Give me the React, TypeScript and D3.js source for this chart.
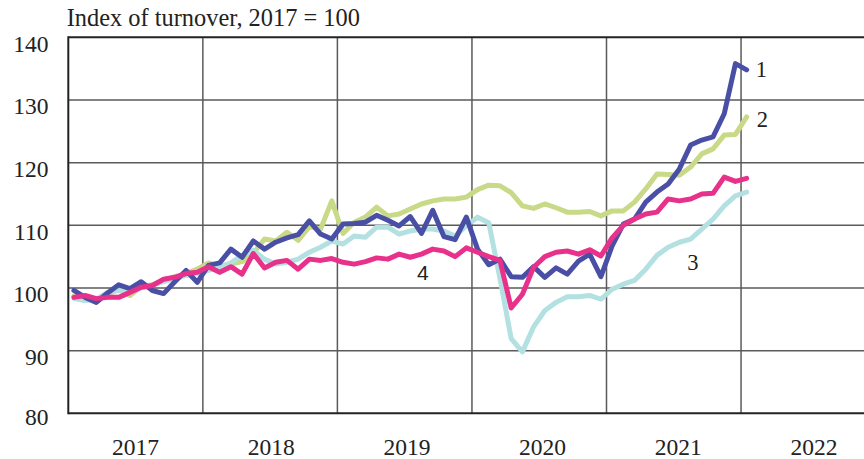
import React from 'react';
import * as d3 from 'd3';

const years = ['2017', '2018', '2019', '2020', '2021', '2022'];
const yTicks = [80, 90, 100, 110, 120, 130, 140];
const titleText = 'Index of turnover, 2017 = 100';

// Monthly values, Jan 2017 – Jan 2022
const series1 = [
  99.6, 98.5, 97.7, 99.2, 100.5, 99.9, 101.0, 99.6, 99.1, 101.0, 102.8, 100.9,
  103.6, 104.0, 106.2, 104.9, 107.5, 106.2, 107.3, 108.0, 108.5, 110.7, 108.6, 107.8,
  110.2, 110.3, 110.5, 111.6, 110.8, 109.9, 111.4, 108.7, 112.4, 108.2, 107.7, 111.3,
  106.2, 103.7, 104.6, 101.8, 101.7, 103.4, 101.7, 103.2, 102.2, 104.3, 105.4, 101.8,
  106.7, 110.2, 111.0, 113.7, 115.3, 116.6, 119.0, 122.8, 123.6, 124.1, 127.8, 135.8,
  134.8,
];
const series2 = [
  98.7, 98.3, 98.0, 99.0, 99.8, 98.8, 100.2, 100.5, 101.2, 101.8, 102.3, 103.0,
  104.0, 103.5, 103.8, 104.2, 105.5, 107.8, 107.5, 108.9, 107.6, 109.8, 109.4, 113.9,
  108.7, 110.5, 111.3, 112.9, 111.5, 111.8, 112.6, 113.4, 113.9, 114.2, 114.2, 114.5,
  115.7, 116.4, 116.3, 115.2, 113.1, 112.7, 113.4, 112.8, 112.1, 112.1, 112.2, 111.5,
  112.3, 112.3, 113.7, 115.8, 118.2, 118.1, 118.0, 119.3, 121.4, 122.2, 124.4, 124.5,
  127.3,
];
const series3 = [
  98.3, 98.0, 98.2, 99.3, 99.6, 99.3, 100.0, 100.5, 101.0, 101.5, 102.0, 102.3,
  102.8, 103.3, 104.0, 105.2, 106.0, 104.6, 103.8, 104.1, 104.6, 105.7, 106.5, 107.5,
  107.0, 108.3, 108.1, 109.7, 109.7, 108.6, 109.1, 109.4, 109.4, 109.1, 108.3, 109.9,
  111.3, 110.4, 101.5, 91.9, 89.8, 93.8, 96.4, 97.7, 98.6, 98.6, 98.8, 98.2,
  99.8, 100.6, 101.2, 103.0, 105.2, 106.5, 107.3, 107.8, 109.4, 111.0, 113.1, 114.7,
  115.3,
];
const series4 = [
  98.5, 98.8, 98.3, 98.5, 98.5, 99.3, 100.1, 100.4, 101.4, 101.7, 102.3, 102.5,
  103.4, 102.5, 103.4, 102.2, 105.5, 103.2, 104.1, 104.4, 103.0, 104.6, 104.4, 104.7,
  104.1, 103.8, 104.2, 104.8, 104.6, 105.4, 104.9, 105.4, 106.2, 105.9, 105.0, 106.4,
  105.7, 105.0, 104.4, 96.8, 99.0, 103.3, 105.0, 105.7, 105.9, 105.4, 106.1, 105.1,
  108.0, 110.0, 111.0, 111.8, 112.1, 114.2, 113.9, 114.2, 115.0, 115.1, 117.7, 117.0,
  117.5,
];

const seriesNames = ['1', '2', '3', '4'];
const seriesColors = ['#4a4fa6', '#c8d987', '#b3e0e1', '#e8318b'];
// label anchor positions (month index, value)
const labelMonths = [61.3, 61.4, 55.2, 31.1];
const labelValues = [133.7, 125.7, 102.9, 101.3];

export default function App() {
  const W = 864;
  const H = 459;
  const left = 68.3;
  const yearW = 134.55;
  const top = 37.3;
  const bottom = 413.3;
  const right = 864;

  const x = d3.scaleLinear().domain([0, 72]).range([left, left + 6 * yearW]);
  const y = d3.scaleLinear().domain([80, 140]).range([bottom, top]);
  const yearLabelX = d3.scaleLinear().domain([0, 5]).range([135.5, 814]);

  const line = d3
    .line<number>()
    .x((_, i) => x(i + 0.5))
    .y((d) => y(d));

  const all = [series1, series2, series3, series4];
  const drawOrder = [1, 2, 0, 3];
  const serif = '"Liberation Serif", "Times New Roman", serif';
  const sans = '"Liberation Sans", Arial, sans-serif';

  return (
    <svg
      width={W}
      height={H}
      style={{ position: 'absolute', left: 0, top: 0, background: '#fff' }}
    >
      <rect x={0} y={0} width={W} height={H} fill="#fff" />
      {/* horizontal grid */}
      {yTicks
        .filter((t) => t !== 80 && t !== 140)
        .map((t) => (
          <line key={'h' + t} x1={left} x2={right} y1={y(t)} y2={y(t)} stroke="#5a5a5a" strokeWidth={1.5} />
        ))}
      {/* vertical grid */}
      {d3.range(1, 6).map((k) => (
        <line key={'v' + k} x1={x(k * 12)} x2={x(k * 12)} y1={top} y2={bottom} stroke="#5a5a5a" strokeWidth={1.5} />
      ))}
      {/* top & bottom frame */}
      <line x1={left} x2={right} y1={y(140)} y2={y(140)} stroke="#222" strokeWidth={2} />
      <line x1={left} x2={right} y1={y(80)} y2={y(80)} stroke="#222" strokeWidth={2} />
      <line x1={left} x2={left} y1={top - 1} y2={bottom + 1} stroke="#222" strokeWidth={2} />

      {/* series */}
      {drawOrder.map((si) => (
        <path
          key={'s' + si}
          d={line(all[si]) || ''}
          fill="none"
          stroke={seriesColors[si]}
          strokeWidth={5}
          strokeLinejoin="round"
          strokeLinecap="round"
        />
      ))}

      {/* y tick labels */}
      {yTicks.map((t) => (
        <text key={'yt' + t} x={48.5} y={y(t) + (t === 80 ? 12 : 14.5)} textAnchor="end" fontFamily={serif} fontSize={23.5} fill="#222">
          {t}
        </text>
      ))}
      {/* year labels */}
      {years.map((yr, i) => (
        <text key={yr} x={yearLabelX(i)} y={455} textAnchor="middle" fontFamily={serif} fontSize={23.5} fill="#222">
          {yr}
        </text>
      ))}
      {/* title */}
      <text x={66.7} y={26} fontFamily={serif} fontSize={24.4} fill="#222">
        {titleText}
      </text>
      {/* series labels */}
      {seriesNames.map((n, i) => (
        <text
          key={'lab' + n}
          x={x(labelMonths[i])}
          y={y(labelValues[i])}
          fontFamily={i === 3 ? sans : serif}
          fontSize={i === 3 ? 21 : 22.5}
          fill="#222"
        >
          {n}
        </text>
      ))}
    </svg>
  );
}
